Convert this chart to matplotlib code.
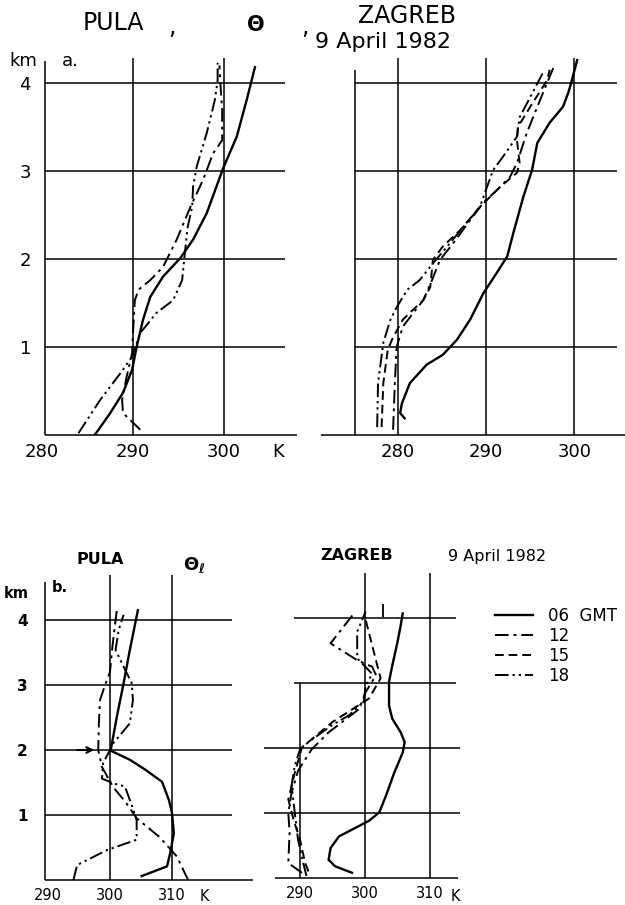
import matplotlib
matplotlib.use('Agg')
import matplotlib.pyplot as plt

# potential temperature profiles (K) vs height (km)
# --- a. theta, Pula
pula_a_06_k = [285.8, 287.5, 288.9, 289.9, 290.4, 291.1, 291.9, 293.3, 295.2, 296.6, 298.1, 299.9, 301.4, 302.5, 303.4]
pula_a_06_z = [0.0, 0.25, 0.48, 0.74, 1.0, 1.31, 1.57, 1.80, 2.01, 2.22, 2.52, 3.03, 3.39, 3.81, 4.18]
pula_a_12_k = [290.8, 288.9, 288.8, 289.3, 289.9, 290.0, 290.2, 290.6, 291.9, 293.3, 294.8, 296.3, 297.7, 298.8, 299.8, 299.8, 299.6, 299.5]
pula_a_12_z = [0.06, 0.25, 0.40, 0.66, 0.93, 1.16, 1.53, 1.65, 1.76, 1.91, 2.22, 2.59, 2.90, 3.20, 3.35, 3.69, 4.00, 4.20]
pula_a_18_k = [284.0, 286.4, 288.6, 289.9, 290.8, 292.6, 294.4, 295.4, 295.7, 296.0, 296.5, 296.6, 297.0, 298.1, 299.0, 299.3, 299.3]
pula_a_18_z = [0.02, 0.40, 0.70, 0.89, 1.16, 1.39, 1.53, 1.76, 2.07, 2.36, 2.59, 2.82, 3.05, 3.43, 3.81, 4.03, 4.23]

# --- a. theta, Zagreb
zag_a_06_k = [280.8, 280.3, 280.5, 281.4, 283.3, 285.1, 286.7, 288.2, 289.7, 291.2, 292.4, 293.1, 294.2, 295.2, 295.8, 297.2, 298.7, 299.3, 299.7, 300.3]
zag_a_06_z = [0.19, 0.25, 0.36, 0.59, 0.80, 0.91, 1.08, 1.31, 1.61, 1.84, 2.03, 2.30, 2.70, 3.01, 3.32, 3.55, 3.73, 3.89, 4.03, 4.26]
zag_a_12_k = [279.5, 279.7, 279.9, 280.6, 281.8, 282.9, 283.9, 284.8, 286.3, 288.2, 289.7, 291.2, 292.7, 293.5, 294.6, 295.8, 296.9, 297.6]
zag_a_12_z = [0.06, 0.59, 1.00, 1.23, 1.39, 1.53, 1.76, 1.99, 2.18, 2.44, 2.64, 2.78, 2.93, 3.09, 3.43, 3.73, 4.00, 4.17]
zag_a_15_k = [278.2, 278.4, 278.9, 279.5, 280.6, 281.4, 282.9, 283.7, 284.0, 285.1, 287.1, 289.3, 291.6, 293.5, 293.8, 293.5, 293.6, 295.0, 296.9, 297.2]
zag_a_15_z = [0.09, 0.59, 0.97, 1.11, 1.31, 1.39, 1.53, 1.68, 1.99, 2.14, 2.33, 2.59, 2.82, 2.98, 3.09, 3.35, 3.50, 3.73, 4.03, 4.15]
zag_a_18_k = [277.7, 277.8, 278.4, 279.2, 279.9, 281.1, 282.5, 284.0, 285.6, 287.4, 289.3, 290.8, 291.9, 293.5, 293.8, 295.0, 296.4]
zag_a_18_z = [0.09, 0.59, 1.05, 1.31, 1.45, 1.65, 1.76, 1.95, 2.14, 2.36, 2.59, 3.01, 3.16, 3.39, 3.61, 3.84, 4.11]

# --- b. theta_l, Pula
pula_b_06_k = [305.1, 309.2, 309.7, 310.3, 310.0, 309.5, 308.4, 305.8, 303.2, 300.1, 301.1, 302.2, 303.2, 304.5]
pula_b_06_z = [0.06, 0.21, 0.41, 0.72, 1.03, 1.23, 1.51, 1.69, 1.85, 1.99, 2.51, 3.03, 3.54, 4.15]
pula_b_12_k = [312.6, 310.8, 308.0, 304.3, 302.5, 300.5, 298.7, 298.1, 298.2, 298.4, 299.2, 300.0, 300.4, 300.9, 301.1]
pula_b_12_z = [0.0, 0.36, 0.66, 0.95, 1.20, 1.43, 1.74, 2.00, 2.40, 2.77, 3.00, 3.20, 3.60, 4.00, 4.15]
pula_b_18_k = [294.1, 294.7, 299.5, 304.3, 304.3, 303.7, 302.4, 300.8, 298.7, 298.9, 300.0, 300.5, 303.2, 303.7, 303.5, 302.2, 300.9, 301.4, 302.2]
pula_b_18_z = [0.0, 0.23, 0.46, 0.62, 0.92, 1.10, 1.44, 1.48, 1.56, 1.80, 2.00, 2.10, 2.41, 2.77, 3.03, 3.28, 3.54, 3.85, 4.08]

# --- b. theta_l, Zagreb
zag_b_06_k = [298.0, 295.4, 294.4, 294.7, 296.0, 298.5, 300.6, 302.2, 303.2, 304.5, 305.8, 306.1, 305.5, 304.2, 303.7, 303.7, 304.2, 305.0, 305.5, 305.8]
zag_b_06_z = [0.08, 0.18, 0.28, 0.46, 0.64, 0.77, 0.88, 1.01, 1.26, 1.62, 1.93, 2.09, 2.24, 2.45, 2.65, 3.02, 3.27, 3.63, 3.89, 4.07]
zag_b_12_k = [290.3, 288.2, 288.4, 288.2, 288.7, 289.7, 291.8, 294.4, 296.5, 299.1, 300.1, 301.7, 301.1, 298.8, 294.7, 298.3]
zag_b_12_z = [0.08, 0.23, 0.70, 1.00, 1.31, 1.65, 1.98, 2.24, 2.40, 2.60, 2.86, 3.12, 3.25, 3.35, 3.61, 4.07]
zag_b_15_k = [291.3, 290.8, 290.0, 289.0, 288.2, 289.2, 290.3, 295.0, 300.6, 302.4, 299.9]
zag_b_15_z = [0.10, 0.23, 0.59, 0.90, 1.21, 1.62, 2.01, 2.40, 2.76, 3.07, 4.05]
zag_b_18_k = [291.0, 290.5, 289.7, 289.2, 288.7, 289.2, 290.0, 291.3, 294.9, 297.5, 299.8, 300.1, 301.1, 298.8, 298.8, 300.1]
zag_b_18_z = [0.03, 0.23, 0.59, 1.00, 1.42, 1.73, 1.98, 2.09, 2.35, 2.50, 2.71, 2.96, 3.14, 3.38, 3.79, 4.10]

legend_labels = ['06  GMT', '12', '15', '18']
km_ticks = [1, 2, 3, 4]

W, H = 625, 905
fig = plt.figure(figsize=(W / 100, H / 100), dpi=100)
plt.rcParams['font.family'] = 'DejaVu Sans'

styles = {
    '06': dict(ls='-', lw=1.7),
    '12': dict(ls=(0, (7, 2.5, 1.5, 2.5)), lw=1.4),
    '15': dict(ls=(0, (4.5, 2.5)), lw=1.4),
    '18': dict(ls=(0, (7, 2, 1.2, 2, 1.2, 2)), lw=1.4),
}


def panel(kref, pxref, ppk, pyg, ppz, xlim, ylim):
    # place an axes so that data units land on the pixel grid of the scan
    x0 = pxref + (xlim[0] - kref) * ppk
    x1 = pxref + (xlim[1] - kref) * ppk
    ytop = pyg - ylim[1] * ppz
    ybot = pyg - ylim[0] * ppz
    ax = fig.add_axes([x0 / W, 1 - ybot / H, (x1 - x0) / W, (ybot - ytop) / H])
    ax.set_xlim(xlim)
    ax.set_ylim(ylim)
    for s in ax.spines.values():
        s.set_visible(False)
    ax.patch.set_alpha(0)
    ax.tick_params(length=0)
    return ax


def frame(ax, spine_x, spine_top, vgrid, vtop, hx0, hx1, bx0, bx1, vbottom=0):
    kw = dict(color='black', lw=1.1, clip_on=False)
    if spine_x is not None:
        ax.vlines(spine_x, 0, spine_top, **kw)
    ax.vlines(vgrid, vbottom, vtop, **kw)
    ax.hlines(km_ticks, hx0, hx1, **kw)
    ax.hlines(0, bx0, bx1, **kw)


def txt(px, py, s, size, **kw):
    fig.text(px / W, 1 - py / H, s, fontsize=size, ha='center', va='center', **kw)


# ---------- a. panels ----------
ax1 = panel(290, 133, 9.1, 435, 88, (280, 309), (0, 4.4))
frame(ax1, 280.3, 4.25, [290, 300], 4.28, 280.3, 306.7, 280.3, 308)
ax1.plot(pula_a_06_k, pula_a_06_z, color='k', **styles['06'])
ax1.plot(pula_a_12_k, pula_a_12_z, color='k', **styles['12'])
ax1.plot(pula_a_18_k, pula_a_18_z, color='k', **styles['18'])
ax1.set_xticks([280, 290, 300])
ax1.set_xticklabels(['280', '290', '300'], fontsize=13)
ax1.set_yticks(km_ticks)
ax1.set_yticklabels([str(k) for k in km_ticks], fontsize=13)
ax1.tick_params(axis='x', pad=6)
ax1.tick_params(axis='y', pad=8)

ax2 = panel(290, 486, 8.85, 435, 88, (271, 306), (0, 4.4))
frame(ax2, 275.2, 4.15, [280, 290, 300], 4.28, 275.2, 304.8, 271.3, 306)
ax2.plot(zag_a_06_k, zag_a_06_z, color='k', **styles['06'])
ax2.plot(zag_a_12_k, zag_a_12_z, color='k', **styles['12'])
ax2.plot(zag_a_15_k, zag_a_15_z, color='k', **styles['15'])
ax2.plot(zag_a_18_k, zag_a_18_z, color='k', **styles['18'])
ax2.set_xticks([280, 290, 300])
ax2.set_xticklabels(['280', '290', '300'], fontsize=13)
ax2.set_yticks([])
ax2.tick_params(axis='x', pad=6)

txt(113, 23, 'PULA', 17)
txt(172, 27, ',', 17)
txt(256, 25, 'Θ', 15, fontweight='bold')
txt(305, 27, ',', 17)
txt(407, 16, 'ZAGREB', 17)
txt(383, 42, '9 April 1982', 16)
txt(23, 61, 'km', 13)
txt(70, 61, 'a.', 13)
txt(278, 452, 'K', 13)

# ---------- b. panels ----------
ax3 = panel(300, 110, 6.2, 880, 65, (289, 324), (0, 4.8))
frame(ax3, 289.5, 4.58, [300, 310], 4.7, 289.5, 319.7, 289.5, 323)
ax3.plot(pula_b_06_k, pula_b_06_z, color='k', **styles['06'])
ax3.plot(pula_b_12_k, pula_b_12_z, color='k', **styles['12'])
ax3.plot(pula_b_18_k, pula_b_18_z, color='k', **styles['18'])
ax3.annotate('', xy=(297.9, 2.0), xytext=(294.3, 2.0),
             arrowprops=dict(arrowstyle='->', lw=1.5, color='k'))
ax3.set_xticks([290, 300, 310])
ax3.set_xticklabels(['290', '300', '310'], fontsize=10.5)
ax3.set_yticks(km_ticks)
ax3.set_yticklabels([str(k) for k in km_ticks], fontsize=11, fontweight='bold')
ax3.tick_params(axis='x', pad=6)
ax3.tick_params(axis='y', pad=10)

ax4 = panel(300, 365, 6.5, 878, 65, (284, 315), (0, 4.8))
kw = dict(color='black', lw=1.1, clip_on=False)
ax4.vlines(290, 0, 3.0, **kw)
ax4.vlines([300, 310], 0, 4.7, **kw)
ax4.hlines([3, 4], 289, 314, **kw)
ax4.hlines([1, 2], 284.5, 314.6, **kw)
ax4.hlines(0, 286.2, 314.3, **kw)
ax4.vlines(302.7, 4.02, 4.22, color='black', lw=1.3)
l06, = ax4.plot(zag_b_06_k, zag_b_06_z, color='k', **styles['06'])
l12, = ax4.plot(zag_b_12_k, zag_b_12_z, color='k', **styles['12'])
l15, = ax4.plot(zag_b_15_k, zag_b_15_z, color='k', **styles['15'])
l18, = ax4.plot(zag_b_18_k, zag_b_18_z, color='k', **styles['18'])
ax4.set_xticks([290, 300, 310])
ax4.set_xticklabels(['290', '300', '310'], fontsize=10.5)
ax4.set_yticks([])
ax4.tick_params(axis='x', pad=6)

txt(100, 559, 'PULA', 11.5, fontweight='bold')
txt(194, 565, r'$\mathbf{\Theta_\ell}$', 13)
txt(357, 555, 'ZAGREB', 11.5, fontweight='bold')
txt(497, 556, '9 April 1982', 11.5)
txt(16, 593, 'km', 10.5, fontweight='bold')
txt(60, 587, 'b.', 10.5, fontweight='bold')
txt(204, 896, 'K', 10.5)
txt(455, 896, 'K', 10.5)

fig.legend([l06, l12, l15, l18], legend_labels, loc='upper left',
           bbox_to_anchor=(495 / W, 1 - 607 / H), frameon=False,
           fontsize=12, handlelength=2.3, handletextpad=0.9,
           labelspacing=0.12, borderpad=0, borderaxespad=0)

fig.savefig('out.png', dpi=100, facecolor='white')
